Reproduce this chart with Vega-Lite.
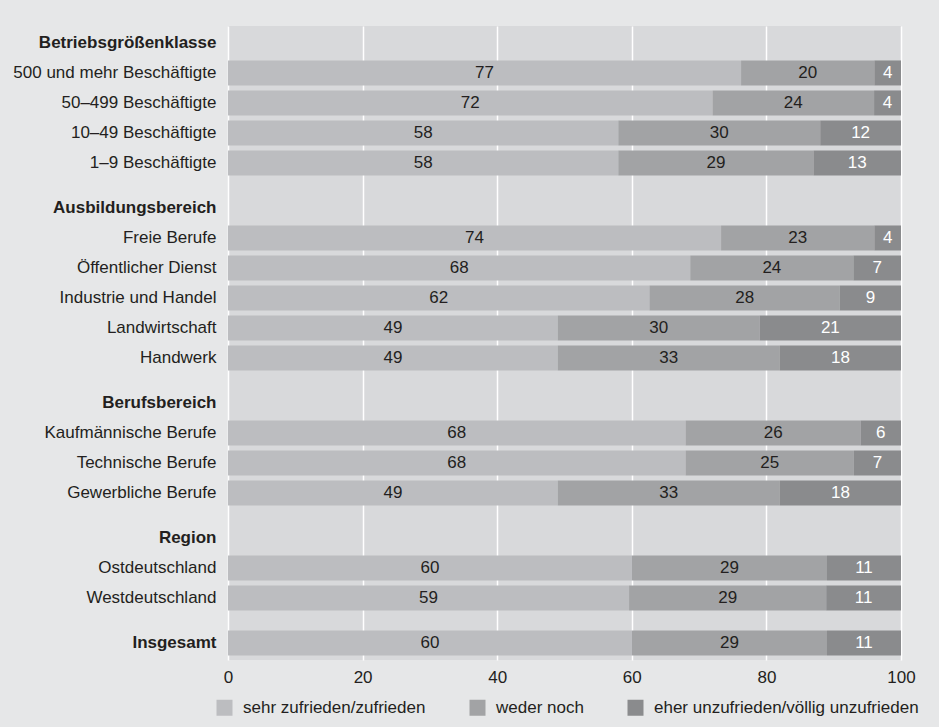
{
  "$schema": "https://vega.github.io/schema/vega-lite/v6.json",
  "width": 673,
  "height": 634,
  "autosize": {"type": "none"},
  "padding": {"left": 228, "top": 26, "right": 38, "bottom": 67},
  "background": "#e6e7e8",
  "view": {"fill": "#d8d9db", "stroke": null},
  "config": {
    "font": "Liberation Sans",
    "axis": {"labelFont": "Liberation Sans", "labelColor": "#231f20"},
    "legend": {"labelFont": "Liberation Sans", "labelColor": "#231f20"}
  },
  "data": {
    "values": [
      {"row": "500 und mehr Beschäftigte", "sehr zufrieden/zufrieden": 77, "weder noch": 20, "eher unzufrieden/völlig unzufrieden": 4},
      {"row": "50–499 Beschäftigte", "sehr zufrieden/zufrieden": 72, "weder noch": 24, "eher unzufrieden/völlig unzufrieden": 4},
      {"row": "10–49 Beschäftigte", "sehr zufrieden/zufrieden": 58, "weder noch": 30, "eher unzufrieden/völlig unzufrieden": 12},
      {"row": "1–9 Beschäftigte", "sehr zufrieden/zufrieden": 58, "weder noch": 29, "eher unzufrieden/völlig unzufrieden": 13},
      {"row": "Freie Berufe", "sehr zufrieden/zufrieden": 74, "weder noch": 23, "eher unzufrieden/völlig unzufrieden": 4},
      {"row": "Öffentlicher Dienst", "sehr zufrieden/zufrieden": 68, "weder noch": 24, "eher unzufrieden/völlig unzufrieden": 7},
      {"row": "Industrie und Handel", "sehr zufrieden/zufrieden": 62, "weder noch": 28, "eher unzufrieden/völlig unzufrieden": 9},
      {"row": "Landwirtschaft", "sehr zufrieden/zufrieden": 49, "weder noch": 30, "eher unzufrieden/völlig unzufrieden": 21},
      {"row": "Handwerk", "sehr zufrieden/zufrieden": 49, "weder noch": 33, "eher unzufrieden/völlig unzufrieden": 18},
      {"row": "Kaufmännische Berufe", "sehr zufrieden/zufrieden": 68, "weder noch": 26, "eher unzufrieden/völlig unzufrieden": 6},
      {"row": "Technische Berufe", "sehr zufrieden/zufrieden": 68, "weder noch": 25, "eher unzufrieden/völlig unzufrieden": 7},
      {"row": "Gewerbliche Berufe", "sehr zufrieden/zufrieden": 49, "weder noch": 33, "eher unzufrieden/völlig unzufrieden": 18},
      {"row": "Ostdeutschland", "sehr zufrieden/zufrieden": 60, "weder noch": 29, "eher unzufrieden/völlig unzufrieden": 11},
      {"row": "Westdeutschland", "sehr zufrieden/zufrieden": 59, "weder noch": 29, "eher unzufrieden/völlig unzufrieden": 11},
      {"row": "Insgesamt", "sehr zufrieden/zufrieden": 60, "weder noch": 29, "eher unzufrieden/völlig unzufrieden": 11}
    ]
  },
  "transform": [
    {"fold": ["sehr zufrieden/zufrieden", "weder noch", "eher unzufrieden/völlig unzufrieden"], "as": ["cat", "v"]},
    {"window": [{"op": "row_number", "as": "k"}], "groupby": ["row"]}
  ],
  "encoding": {
    "y": {
      "field": "row",
      "type": "nominal",
      "title": null,
      "scale": {
        "domain": ["Betriebsgrößenklasse", "~1", "500 und mehr Beschäftigte", "~2", "50–499 Beschäftigte", "~3", "10–49 Beschäftigte", "~4", "1–9 Beschäftigte", "~5", "~6",
                   "Ausbildungsbereich", "~7", "Freie Berufe", "~8", "Öffentlicher Dienst", "~9", "Industrie und Handel", "~10", "Landwirtschaft", "~11", "Handwerk", "~12", "~13",
                   "Berufsbereich", "~14", "Kaufmännische Berufe", "~15", "Technische Berufe", "~16", "Gewerbliche Berufe", "~17", "~18",
                   "Region", "~19", "Ostdeutschland", "~20", "Westdeutschland", "~21", "~22", "Insgesamt"],
        "paddingInner": 0,
        "paddingOuter": 0.63
      },
      "axis": {
        "domain": false,
        "ticks": false,
        "grid": false,
        "labelPadding": 12,
        "labelFontSize": 17,
        "labelLimit": 300,
        "labelExpr": "indexof(datum.label, '~') == 0 ? '' : datum.label",
        "labelFontWeight": {
          "condition": {"test": "indexof(['Betriebsgrößenklasse','Ausbildungsbereich','Berufsbereich','Region','Insgesamt'], datum.label) >= 0", "value": "bold"},
          "value": "normal"
        }
      }
    }
  },
  "layer": [
    {
      "mark": {"type": "bar", "height": 25},
      "encoding": {
        "x": {
          "field": "v",
          "type": "quantitative",
          "stack": "normalize",
          "title": null,
          "scale": {"domain": [0, 1], "nice": false},
          "axis": {
            "values": [0, 0.2, 0.4, 0.6, 0.8, 1],
            "labelExpr": "format(datum.value * 100, 'd')",
            "labelFlush": false,
            "domain": false,
            "ticks": false,
            "labelPadding": 9,
            "labelFontSize": 17,
            "gridColor": "#ffffff",
            "gridWidth": 1.5,
            "gridOpacity": 1
          }
        },
        "order": {"field": "k", "type": "quantitative", "sort": "ascending"},
        "color": {
          "field": "cat",
          "type": "nominal",
          "sort": ["sehr zufrieden/zufrieden", "weder noch", "eher unzufrieden/völlig unzufrieden"],
          "scale": {
            "domain": ["sehr zufrieden/zufrieden", "weder noch", "eher unzufrieden/völlig unzufrieden"],
            "range": ["#bcbdc0", "#a2a3a5", "#8a8b8d"]
          },
          "legend": {
            "title": null,
            "orient": "none",
            "legendX": -12,
            "legendY": 673,
            "direction": "horizontal",
            "symbolType": "square",
            "symbolSize": 256,
            "symbolStrokeWidth": 0,
            "symbolOpacity": 1,
            "labelFontSize": 17,
            "labelLimit": 400,
            "labelOffset": 10,
            "columnPadding": 43
          }
        }
      }
    },
    {
      "mark": {"type": "text", "fontSize": 17, "baseline": "middle", "align": "center"},
      "encoding": {
        "x": {"field": "v", "type": "quantitative", "stack": "normalize", "bandPosition": 0.5},
        "order": {"field": "k", "type": "quantitative", "sort": "ascending"},
        "detail": {"field": "cat", "type": "nominal"},
        "text": {"field": "v", "type": "quantitative", "format": "d"},
        "color": {
          "condition": {"test": "datum.cat === 'eher unzufrieden/völlig unzufrieden'", "value": "#ffffff"},
          "value": "#231f20"
        }
      }
    }
  ]
}
